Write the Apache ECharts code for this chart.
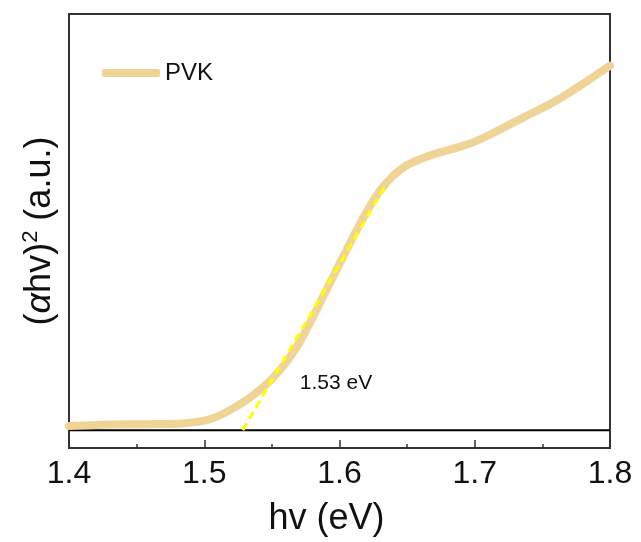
<!DOCTYPE html>
<html>
<head>
<meta charset="utf-8">
<script src="https://cdn.jsdelivr.net/npm/echarts@6/dist/echarts.min.js"></script>
<style>html,body{margin:0;padding:0;background:#fff;}#c{width:641px;height:542px;}</style>
</head>
<body>
<div id="c"></div>
<script>
// Data
const energy = [1.40, 1.43, 1.46, 1.48, 1.49, 1.50, 1.51, 1.52, 1.53, 1.54, 1.55, 1.56, 1.57, 1.58, 1.59, 1.60, 1.61, 1.62, 1.63, 1.64, 1.65, 1.66, 1.67, 1.68, 1.69, 1.70, 1.71, 1.72, 1.73, 1.74, 1.75, 1.76, 1.77, 1.78, 1.79, 1.80];
const pvk    = [5.05, 5.4, 5.5, 5.6, 5.85, 6.3, 7.3, 8.9, 10.8, 13.1, 15.9, 19.5, 24.1, 29.9, 36.2, 42.4, 48.6, 54.4, 59.3, 62.8, 65.2, 66.6, 67.7, 68.6, 69.5, 70.6, 72.0, 73.6, 75.2, 76.8, 78.3, 80.0, 81.9, 83.9, 86.0, 88.1];
const tangentX = [1.5285, 1.635];
const tangentY = [4.1, 61.0];
const baselineX = [1.4, 1.8];
const baselineY = [4.1, 4.1];
const xTicks = [1.4, 1.5, 1.6, 1.7, 1.8];
const bandGapLabel = '1.53 eV';
const bandGapLabelAt = [1.5974, 14.9];
const seriesName = 'PVK';

const zip = (a, b) => a.map((v, i) => [v, b[i]]);
const FONT = '"Liberation Sans", Arial, sans-serif';

const chart = echarts.init(document.getElementById('c'), null, {renderer: 'canvas'});
chart.setOption({
  animation: false,
  backgroundColor: '#fff',
  textStyle: {fontFamily: FONT},
  grid: {left: 69, right: 31, top: 14, bottom: 92, show: true, borderColor: '#333', borderWidth: 2, containLabel: false},
  legend: {
    data: [seriesName], left: 97, top: 56, icon: 'roundRect', itemWidth: 58, itemHeight: 8, itemGap: 10,
    textStyle: {fontSize: 24, color: '#111', fontFamily: FONT}
  },
  xAxis: {
    type: 'value', min: xTicks[0], max: xTicks[xTicks.length - 1], interval: 0.1,
    axisLine: {show: true, lineStyle: {color: '#333', width: 2}},
    axisTick: {show: true, inside: true, length: 8, lineStyle: {color: '#333', width: 1.5}},
    minorTick: {show: true, splitNumber: 2, length: 4, lineStyle: {color: '#333', width: 1.5}},
    axisLabel: {fontSize: 32, color: '#111', margin: 10, fontFamily: FONT, formatter: v => v.toFixed(1)},
    splitLine: {show: false},
    name: 'hv (eV)', nameLocation: 'middle', nameGap: 53,
    nameTextStyle: {fontSize: 36, color: '#111', fontFamily: FONT, padding: [0, 26, 0, 0]}
  },
  yAxis: {
    type: 'value', min: 0, max: 100,
    axisLine: {show: true, lineStyle: {color: '#333', width: 2}},
    axisTick: {show: false}, axisLabel: {show: false}, splitLine: {show: false},
    name: '{p|(}{i|α}{p|hv)}{s|2}{p| (a.u.)}', nameLocation: 'middle', nameGap: 9, nameRotate: 90,
    nameTextStyle: {
      rich: {
        p: {fontSize: 36, color: '#111', fontFamily: FONT},
        i: {fontSize: 36, color: '#111', fontFamily: FONT, fontStyle: 'italic'},
        s: {fontSize: 22, color: '#111', fontFamily: FONT, padding: [0, 0, 18, 0]}
      }
    }
  },
  series: [
    {
      name: 'baseline', type: 'line', data: zip(baselineX, baselineY), symbol: 'none',
      lineStyle: {color: '#000', width: 2}, silent: true, z: 1
    },
    {
      name: seriesName, type: 'line', data: zip(energy, pvk), symbol: 'none', smooth: 0.2,
      lineStyle: {color: '#EFD496', width: 8, cap: 'round', join: 'round'}, itemStyle: {color: '#EFD496'}, z: 2
    },
    {
      name: 'tangent', type: 'line', data: zip(tangentX, tangentY), symbol: 'none',
      lineStyle: {color: '#FFFF00', width: 3, type: [8, 5]}, z: 3,
      markPoint: {
        symbol: 'circle', symbolSize: 0,
        data: [{coord: bandGapLabelAt, value: bandGapLabel}],
        label: {show: true, position: 'inside', formatter: bandGapLabel, fontSize: 21, color: '#111', fontFamily: FONT}
      }
    }
  ]
});
</script>
</body>
</html>
